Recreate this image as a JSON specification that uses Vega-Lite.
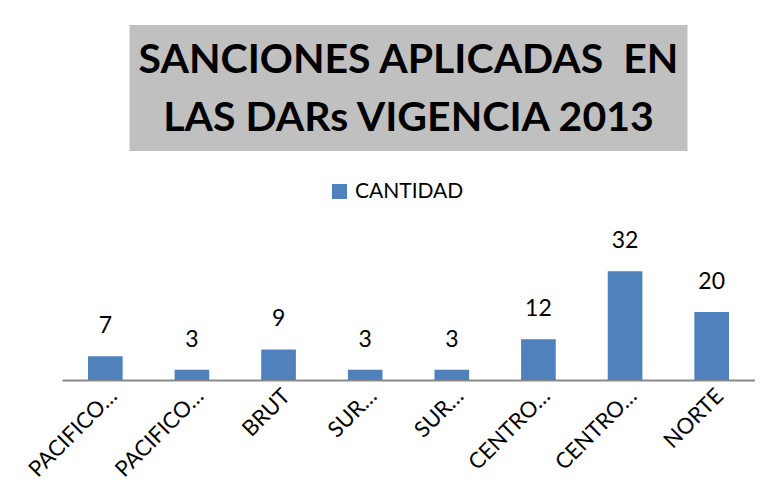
{
  "$schema": "https://vega.github.io/schema/vega-lite/v6.json",
  "background": "white",
  "padding": {"left": 24, "top": 25, "right": 0, "bottom": 0},
  "spacing": 30,
  "center": true,
  "resolve": {"scale": {"color": "independent"}, "legend": {"color": "independent"}},
  "config": {"view": {"stroke": null}, "font": "Lato"},
  "vconcat": [
    {
      "width": 558,
      "height": 126,
      "view": {"fill": "#C0C0C0", "stroke": null},
      "data": {"values": [{"t": ["SANCIONES APLICADAS\u00a0 EN", "LAS DARs VIGENCIA 2013"]}]},
      "mark": {"type": "text", "font": "Lato", "fontWeight": "bold", "fontSize": 41, "lineHeight": 58, "color": "black", "baseline": "middle", "align": "center", "dy": -27},
      "encoding": {"text": {"field": "t"}}
    },
    {
      "width": 693,
      "height": 119,
      "data": {
        "values": [
          {"dar": "PACIFICO NORTE", "cantidad": 7, "serie": "CANTIDAD"},
          {"dar": "PACIFICO SUR", "cantidad": 3, "serie": "CANTIDAD"},
          {"dar": "BRUT", "cantidad": 9, "serie": "CANTIDAD"},
          {"dar": "SUR ORIENTE", "cantidad": 3, "serie": "CANTIDAD"},
          {"dar": "SUR OCCIDENTE", "cantidad": 3, "serie": "CANTIDAD"},
          {"dar": "CENTRO NORTE", "cantidad": 12, "serie": "CANTIDAD"},
          {"dar": "CENTRO SUR", "cantidad": 32, "serie": "CANTIDAD"},
          {"dar": "NORTE", "cantidad": 20, "serie": "CANTIDAD"}
        ]
      },
      "encoding": {
        "x": {
          "field": "dar",
          "type": "nominal",
          "sort": null,
          "scale": {"paddingInner": 0.6, "paddingOuter": 0.3},
          "axis": {
            "title": null,
            "labelExpr": "indexof(datum.value, ' ') > 0 ? split(datum.value, ' ')[0] + '…' : datum.value",
            "labelAngle": -45,
            "labelAlign": "right",
            "labelBaseline": "alphabetic",
            "labelFontSize": 22,
            "labelFont": "Lato",
            "labelColor": "black",
            "labelPadding": 17,
            "labelOffset": 13,
            "ticks": false,
            "domainColor": "#898989",
            "domainWidth": 2
          }
        },
        "y": {"field": "cantidad", "type": "quantitative", "scale": {"domain": [0, 35]}, "axis": null}
      },
      "layer": [
        {
          "mark": {"type": "bar"},
          "encoding": {
            "color": {
              "field": "serie",
              "type": "nominal",
              "scale": {"range": ["#4F81BD"]},
              "legend": {
                "title": null,
                "orient": "none",
                "legendX": 267,
                "legendY": -80,
                "symbolType": "square",
                "symbolSize": 225,
                "symbolStrokeWidth": 0,
                "labelFontSize": 21,
                "labelFont": "Lato",
                "labelColor": "black",
                "labelOffset": 5
              }
            }
          }
        },
        {
          "mark": {"type": "text", "baseline": "bottom", "dy": -18, "fontSize": 23, "font": "Lato", "color": "black"},
          "encoding": {"text": {"field": "cantidad", "type": "quantitative"}}
        }
      ]
    }
  ]
}
